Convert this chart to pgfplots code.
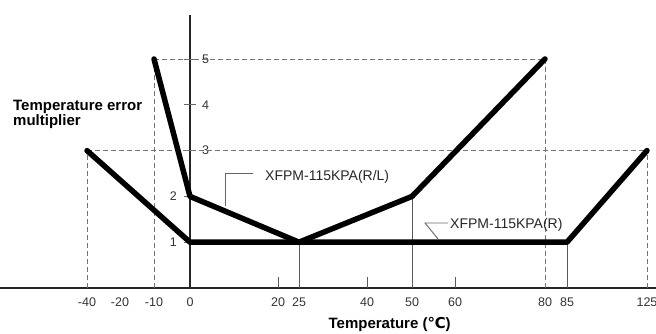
\documentclass[border=0pt]{standalone}
\usepackage{fontspec}
\setmainfont{Liberation Sans}
\newfontfamily\dejavu{DejaVu Sans}
\usepackage{pgfplots}
\pgfplotsset{compat=1.18}
\begin{document}
\begin{tikzpicture}[x=1pt,y=1pt]
\useasboundingbox (0,0) rectangle (656,333);
\begin{axis}[
  at={(0pt,45pt)}, anchor=south west,
  scale only axis, width=656pt, height=273pt,
  xmin=-190, xmax=466, ymin=0, ymax=5.96,
  axis lines=middle,
  axis line style={-, line width=1.4pt, black!85},
  hide obscured x ticks=false, hide obscured y ticks=false,
  clip=false,
  /pgf/number format/assume math mode=true,
  xtick={-103,-70,-36,0,88,109,177,222,265,355,377,457},
  xticklabels={-40,-20,-10,0,20,25,40,50,60,80,85,125},
  xtick style={draw=none},
  xticklabel style={font=\fontsize{12.5}{14}\selectfont, text=black!80, anchor=north, inner sep=0pt, yshift=-4pt},
  ytick={1,2},
  extra y ticks={3,4,5},
  extra y tick style={yticklabel style={anchor=west, inner xsep=18pt}},
  ytick style={black!60, line width=0.8pt},
  major tick length=12pt, tick align=center,
  yticklabel style={font=\fontsize{12.5}{14}\selectfont, text=black!80, anchor=east, inner xsep=7pt, inner ysep=0pt},
  xlabel={Temperature\ ({\dejavu\bfseries ℃})},
  xlabel style={font=\fontsize{15}{15}\selectfont\bfseries, at={(axis description cs:0.594,-0.150)}, anchor=base},
  ylabel={Temperature error\\multiplier},
  ylabel style={font=\fontsize{15}{15}\selectfont\bfseries, at={(axis description cs:0.0198,0.689)}, anchor=north west, align=left, rotate=0, inner sep=0pt},
]
% reference lines
\addplot[black!55, line width=0.9pt, dash pattern=on 5pt off 3pt] coordinates {(-103,0) (-103,3)};
\addplot[black!55, line width=0.9pt, dash pattern=on 5pt off 3pt] coordinates {(-36,0) (-36,5)};
\addplot[black!55, line width=0.9pt, dash pattern=on 5pt off 3pt] coordinates {(355,0) (355,5)};
\addplot[black!55, line width=0.9pt, dash pattern=on 5pt off 3pt] coordinates {(457,0) (457,3)};
\addplot[black!55, line width=0.9pt, dash pattern=on 5pt off 3pt] coordinates {(-36,5) (355,5)};
\addplot[black!55, line width=0.9pt, dash pattern=on 5pt off 3pt] coordinates {(-103,3) (457,3)};
\addplot[black!65, line width=0.9pt] coordinates {(109,0) (109,1)};
\addplot[black!65, line width=0.9pt] coordinates {(222,0) (222,2)};
\addplot[black!65, line width=0.9pt] coordinates {(377,0) (377,1)};
% small ticks
\draw[black!65, line width=0.9pt] (axis cs:88,0) -- (axis cs:88,0.24);
\draw[black!65, line width=0.9pt] (axis cs:177,0) -- (axis cs:177,0.24);
\draw[black!65, line width=0.9pt] (axis cs:265,0) -- (axis cs:265,0.24);
% main curves
\addplot[black, line width=5.5pt, line join=round, line cap=round] coordinates {(-36,5) (0,2) (109,1) (222,2) (355,5)};
\addplot[black, line width=5.5pt, line join=round, line cap=round] coordinates {(-103,3) (0,1) (377,1) (457,3)};
% annotations
\draw[black!60, line width=0.9pt] (axis cs:35,1.78) -- (axis cs:35,2.51) -- (axis cs:63,2.51);
\node[anchor=west, inner sep=0pt, text=black!85, font=\fontsize{14}{16}\selectfont] at (axis cs:75,2.42) {XFPM-115KPA(R/L)};
\draw[black!60, line width=0.9pt] (axis cs:248,1.07) -- (axis cs:235,1.42) -- (axis cs:258,1.42);
\node[anchor=west, inner sep=0pt, text=black!85, font=\fontsize{14}{16}\selectfont] at (axis cs:260,1.38) {XFPM-115KPA(R)};
\end{axis}
\end{tikzpicture}
\end{document}
